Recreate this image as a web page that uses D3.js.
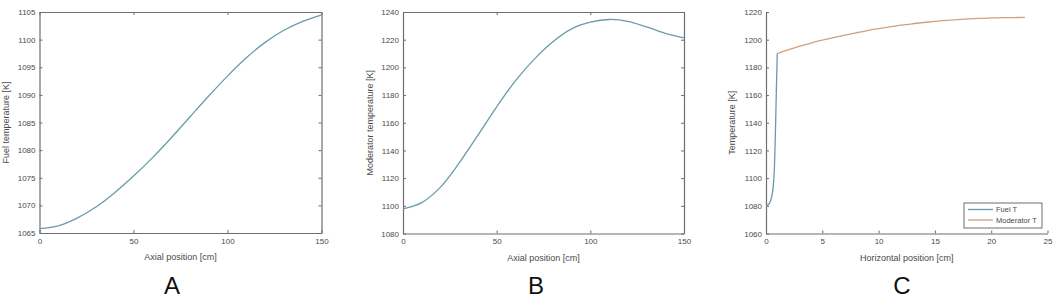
<!DOCTYPE html>
<html>
<head>
<meta charset="utf-8">
<script src="https://cdn.jsdelivr.net/npm/d3@7"></script>
<style>
  body { margin: 0; background: #fff; }
  svg { display: block; font-family: "Liberation Sans", Arial, sans-serif; }
  .domain, .tick line { stroke: #6e6e6e; }
  .tick text { fill: #4a4a4a; font-size: 8px; }
</style>
</head>
<body>
<div id="chart"></div>
<script>
// Panel A - fuel temperature along the axis
var axialPos = [0, 10, 20, 30, 40, 50, 60, 70, 80, 90, 100, 110, 120, 130, 140, 150];
var fuelTemp = [1065.8, 1066.3, 1067.7, 1069.7, 1072.3, 1075.3, 1078.6, 1082.2, 1086.0, 1089.8, 1093.4, 1096.7, 1099.5, 1101.7, 1103.3, 1104.5];

// Panel B - moderator temperature along the axis
var modTemp = [1097.8, 1102.3, 1113.5, 1131, 1151, 1171.5, 1190.3, 1205.8, 1218.5, 1227.8, 1232.6, 1234.6, 1233.3, 1229.2, 1224.6, 1221.3];

// Panel C - horizontal profile
var fuelX = [0, 0.1, 0.2, 0.3, 0.4, 0.5, 0.6, 0.7, 0.75, 0.8, 0.85, 0.9, 0.95, 1.0];
var fuelXT = [1080, 1080.3, 1080.8, 1081.8, 1083.5, 1086.5, 1091, 1100, 1108, 1122, 1138, 1156, 1174, 1190];
var modX = [1, 2, 3, 4, 5, 6, 7, 8, 9, 10, 11, 12, 13, 14, 15, 16, 17, 18, 19, 20, 21, 22, 23];
var modXT = [1190, 1192.8, 1195.4, 1197.6, 1199.6, 1201.5, 1203.3, 1205, 1206.6, 1208, 1209.3, 1210.5, 1211.5, 1212.4, 1213.2, 1213.9, 1214.5, 1215, 1215.4, 1215.7, 1215.9, 1216, 1216.1];

var axialTicks = [0, 50, 100, 150];
var fuelTicks = [1065, 1070, 1075, 1080, 1085, 1090, 1095, 1100, 1105];
var modTicks = [1080, 1100, 1120, 1140, 1160, 1180, 1200, 1220, 1240];
var horizTicks = [0, 5, 10, 15, 20, 25];
var tempTicks = [1060, 1080, 1100, 1120, 1140, 1160, 1180, 1200, 1220];

var blue = "#6a9bab";
var orange = "#d3a07c";

var svg = d3.select("#chart").append("svg")
  .attr("width", 1059)
  .attr("height", 299);

function drawPanel(p) {
  var x = d3.scaleLinear().domain(p.xDomain).range([p.left, p.right]);
  var y = d3.scaleLinear().domain(p.yDomain).range([p.bottom, p.top]);
  var g = svg.append("g");

  g.append("g")
    .attr("transform", "translate(0," + p.bottom + ")")
    .call(d3.axisBottom(x).tickValues(p.xTicks).tickFormat(d3.format("d"))
      .tickSizeInner(-3).tickSizeOuter(0).tickPadding(5));
  g.append("g")
    .attr("transform", "translate(" + p.left + ",0)")
    .call(d3.axisLeft(y).tickValues(p.yTicks).tickFormat(d3.format("d"))
      .tickSizeInner(-3).tickSizeOuter(0).tickPadding(4));

  if (p.box) {
    g.append("g")
      .attr("transform", "translate(0," + p.top + ")")
      .call(d3.axisTop(x).tickValues(p.xTicks).tickSizeInner(-3).tickSizeOuter(0).tickFormat(""));
    g.append("g")
      .attr("transform", "translate(" + p.right + ",0)")
      .call(d3.axisRight(y).tickValues(p.yTicks).tickSizeInner(-3).tickSizeOuter(0).tickFormat(""));
  }
  g.selectAll(".domain").attr("stroke-width", 1.2);

  p.series.forEach(function(s) {
    var pts = s.xs.map(function(d, i) { return [d, s.ys[i]]; });
    g.append("path")
      .datum(pts)
      .attr("fill", "none")
      .attr("stroke", s.color)
      .attr("stroke-width", 1.3)
      .attr("d", d3.line()
        .x(function(d) { return x(d[0]); })
        .y(function(d) { return y(d[1]); })
        .curve(d3.curveCatmullRom.alpha(0.5)));
  });

  // axis labels
  g.append("text")
    .attr("x", (p.left + p.right) / 2)
    .attr("y", p.bottom + 27)
    .attr("text-anchor", "middle")
    .style("font-size", "9px")
    .style("fill", "#4a4a4a")
    .text(p.xLabel);
  g.append("text")
    .attr("transform", "translate(" + p.yLabelX + "," + ((p.top + p.bottom) / 2) + ") rotate(-90)")
    .attr("text-anchor", "middle")
    .style("font-size", "9px")
    .style("fill", "#4a4a4a")
    .text(p.yLabel);

  // panel letter
  g.append("text")
    .attr("x", p.letterX)
    .attr("y", 294)
    .attr("text-anchor", "middle")
    .style("font-size", "24px")
    .style("fill", "#111")
    .text(p.letter);

  return {x: x, y: y, g: g};
}

drawPanel({
  left: 39.5, right: 321.5, top: 12, bottom: 233,
  xDomain: [0, 150], yDomain: [1065, 1105],
  xTicks: axialTicks, yTicks: fuelTicks, box: true,
  series: [{xs: axialPos, ys: fuelTemp, color: blue}],
  xLabel: "Axial position [cm]", yLabel: "Fuel temperature [K]",
  yLabelX: 9, letter: "A", letterX: 172
});

drawPanel({
  left: 403, right: 684, top: 12, bottom: 233.5,
  xDomain: [0, 150], yDomain: [1080, 1240],
  xTicks: axialTicks, yTicks: modTicks, box: true,
  series: [{xs: axialPos, ys: modTemp, color: blue}],
  xLabel: "Axial position [cm]", yLabel: "Moderator temperature [K]",
  yLabelX: 373, letter: "B", letterX: 536
});

var pc = drawPanel({
  left: 766, right: 1047.5, top: 12, bottom: 233.5,
  xDomain: [0, 25], yDomain: [1060, 1220],
  xTicks: horizTicks, yTicks: tempTicks, box: false,
  series: [
    {xs: modX, ys: modXT, color: orange},
    {xs: fuelX, ys: fuelXT, color: blue}
  ],
  xLabel: "Horizontal position [cm]", yLabel: "Temperature [K]",
  yLabelX: 735, letter: "C", letterX: 902
});

// legend
var legendItems = [{name: "Fuel T", color: blue}, {name: "Moderator T", color: orange}];
var legend = pc.g.append("g").attr("transform", "translate(964,203)");
legend.append("rect")
  .attr("width", 78)
  .attr("height", 25)
  .attr("fill", "#fff")
  .attr("stroke", "#6e6e6e")
  .attr("stroke-width", 1);
legendItems.forEach(function(d, i) {
  var row = legend.append("g").attr("transform", "translate(0," + (6.5 + i * 10.5) + ")");
  row.append("line")
    .attr("x1", 4).attr("x2", 29)
    .attr("stroke", d.color)
    .attr("stroke-width", 1.3);
  row.append("text")
    .attr("x", 32)
    .attr("y", 2.5)
    .style("font-size", "7.5px")
    .style("fill", "#4a4a4a")
    .text(d.name);
});
</script>
</body>
</html>
